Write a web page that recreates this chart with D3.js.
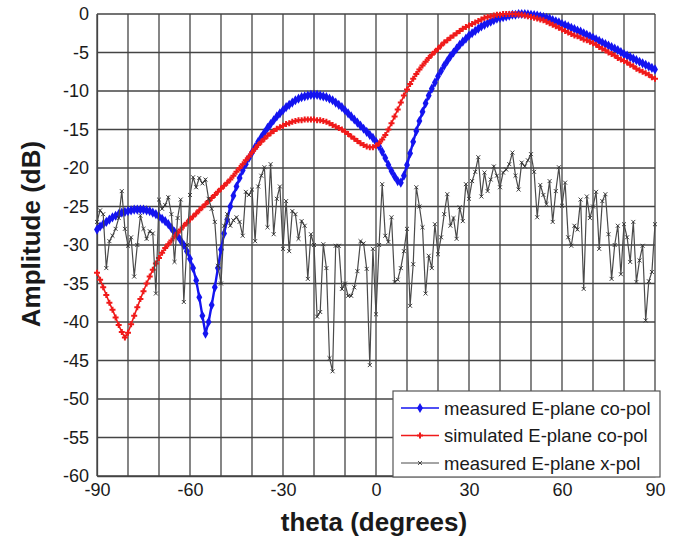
<!DOCTYPE html>
<html><head><meta charset="utf-8">
<script src="https://cdn.jsdelivr.net/npm/d3@7"></script>
<style>body{margin:0;background:#fff}svg{display:block}text{font-family:"Liberation Sans",Arial,sans-serif}</style>
</head><body>
<script>
const thetaStart = -90, thetaStep = 1;
const measuredCoPol = [-28.0,-27.6,-27.3,-27.0,-26.7,-26.4,-26.2,-26.0,-25.8,-25.7,-25.6,-25.5,-25.4,-25.4,-25.4,-25.4,-25.5,-25.6,-25.8,-26.0,-26.3,-26.6,-26.9,-27.3,-27.8,-28.3,-28.8,-29.4,-30.0,-30.8,-31.8,-33.0,-34.6,-36.8,-39.2,-41.5,-40.0,-37.8,-35.5,-33.0,-30.6,-28.5,-26.7,-25.0,-23.6,-22.4,-21.3,-20.3,-19.5,-18.7,-18.0,-17.3,-16.6,-16.0,-15.4,-14.8,-14.3,-13.8,-13.3,-12.9,-12.5,-12.1,-11.8,-11.5,-11.2,-11.0,-10.8,-10.7,-10.6,-10.5,-10.5,-10.5,-10.6,-10.7,-10.8,-11.0,-11.2,-11.5,-11.8,-12.1,-12.5,-12.9,-13.3,-13.7,-14.1,-14.5,-14.9,-15.3,-15.7,-16.1,-16.6,-17.2,-17.9,-18.7,-19.6,-20.4,-21.1,-21.7,-21.9,-21.0,-19.6,-18.1,-16.6,-15.2,-13.9,-12.7,-11.6,-10.6,-9.7,-8.9,-8.1,-7.4,-6.7,-6.1,-5.5,-5.0,-4.5,-4.0,-3.6,-3.2,-2.8,-2.5,-2.2,-1.9,-1.6,-1.4,-1.2,-1.0,-0.8,-0.6,-0.5,-0.4,-0.3,-0.2,-0.1,-0.1,0,0,0,-0.05,-0.1,-0.15,-0.2,-0.3,-0.4,-0.5,-0.6,-0.8,-0.95,-1.1,-1.3,-1.45,-1.6,-1.8,-1.95,-2.15,-2.3,-2.5,-2.7,-2.9,-3.1,-3.3,-3.5,-3.7,-3.9,-4.1,-4.3,-4.5,-4.7,-4.95,-5.2,-5.4,-5.6,-5.8,-6.0,-6.2,-6.4,-6.6,-6.8,-7.0,-7.2];
const simulatedCoPol = [-33.6,-34.5,-35.5,-36.5,-37.5,-38.4,-39.4,-40.4,-41.3,-42.0,-41.4,-40.3,-39.2,-38.1,-37.0,-36.0,-35.0,-34.1,-33.2,-32.4,-31.7,-31.0,-30.4,-29.9,-29.4,-28.9,-28.4,-28.0,-27.5,-27.1,-26.7,-26.3,-25.9,-25.5,-25.1,-24.7,-24.3,-23.9,-23.5,-23.1,-22.7,-22.3,-21.9,-21.5,-21.0,-20.5,-20.0,-19.5,-19.0,-18.5,-18.0,-17.5,-17.0,-16.6,-16.2,-15.8,-15.5,-15.2,-14.9,-14.7,-14.5,-14.3,-14.2,-14.0,-13.9,-13.8,-13.8,-13.7,-13.7,-13.7,-13.7,-13.8,-13.8,-13.9,-14.0,-14.2,-14.4,-14.6,-14.8,-15.0,-15.3,-15.6,-15.9,-16.2,-16.5,-16.8,-17.0,-17.2,-17.3,-17.3,-17.1,-16.8,-16.3,-15.7,-15.0,-14.2,-13.3,-12.4,-11.5,-10.6,-9.8,-9.1,-8.4,-7.8,-7.2,-6.7,-6.2,-5.7,-5.3,-4.9,-4.5,-4.1,-3.7,-3.4,-3.1,-2.8,-2.5,-2.2,-1.9,-1.7,-1.5,-1.3,-1.1,-0.9,-0.7,-0.5,-0.4,-0.3,-0.2,-0.1,-0.1,0,0,0,0,0,-0.05,-0.1,-0.2,-0.3,-0.4,-0.5,-0.6,-0.7,-0.8,-1.0,-1.2,-1.4,-1.6,-1.8,-2.0,-2.2,-2.4,-2.6,-2.8,-2.9,-3.1,-3.3,-3.4,-3.6,-3.8,-4.0,-4.3,-4.5,-4.7,-5.0,-5.2,-5.4,-5.7,-5.9,-6.1,-6.3,-6.6,-6.8,-7.1,-7.3,-7.5,-7.7,-7.9,-8.2,-8.4];
const measuredXPol = [-27.0,-25.5,-26.0,-33.0,-29.5,-28.8,-27.9,-26.5,-23.0,-27.9,-30.1,-29.0,-34.1,-30.0,-26.2,-27.9,-29.2,-28.2,-28.5,-36.3,-24.1,-25.3,-24.8,-23.8,-26.0,-32.2,-26.5,-24.1,-37.4,-30.0,-23.5,-21.2,-22.5,-21.3,-22.0,-21.5,-24.0,-25.3,-27.0,-32.7,-35.0,-27.5,-26.0,-27.5,-26.8,-26.4,-27.0,-28.8,-23.1,-23.5,-22.8,-29.5,-22.4,-21.0,-19.9,-27.7,-19.5,-28.6,-24.0,-22.4,-30.5,-24.3,-30.8,-25.6,-26.0,-29.2,-26.9,-27.5,-34.4,-28.6,-30.0,-39.3,-38.7,-29.9,-33.0,-44.7,-46.4,-30.1,-30.1,-35.7,-35.0,-36.6,-36.6,-35.5,-33.4,-29.5,-29.8,-33.1,-45.6,-30.5,-39.0,-30.0,-22.1,-28.8,-29.6,-26.4,-34.8,-34.5,-33.0,-30.8,-27.9,-37.9,-32.5,-22.5,-25.0,-27.7,-36.3,-31.4,-33.0,-27.3,-31.2,-29.0,-26.0,-23.4,-27.5,-26.5,-29.2,-25.1,-26.9,-22.1,-24.0,-21.7,-20.5,-18.6,-23.7,-20.6,-23.0,-21.5,-19.8,-21.0,-22.5,-20.6,-20.2,-19.5,-18.0,-21.0,-22.8,-19.3,-19.8,-19.0,-18.2,-20.5,-26.4,-22.2,-23.5,-24.7,-21.7,-27.0,-23.0,-19.9,-24.9,-21.9,-29.0,-30.1,-27.5,-28.0,-24.1,-35.7,-23.7,-26.5,-25.0,-23.1,-30.5,-24.3,-23.4,-28.6,-34.4,-30.0,-27.5,-33.8,-27.3,-29.0,-32.2,-27.0,-34.8,-32.0,-30.1,-39.8,-34.7,-33.5,-27.3];
const xTicks = [-90,-60,-30,0,30,60,90];
const yTicks = [0,-5,-10,-15,-20,-25,-30,-35,-40,-45,-50,-55,-60];
const seriesNames = ["measured E-plane co-pol","simulated E-plane co-pol","measured E-plane x-pol"];

const W = 676, H = 541;
const m = {left: 97, right: 655, top: 14, bottom: 476};
const svg = d3.select("body").append("svg").attr("width", W).attr("height", H);
const x = d3.scaleLinear().domain([-90, 90]).range([m.left, m.right]);
const y = d3.scaleLinear().domain([-60, 0]).range([m.bottom, m.top]);
const gridColor = "#444";
const font = "'Liberation Sans',Arial,sans-serif";
const fmt = d => String(d);

// grid
const g = svg.append("g");
g.selectAll("line.v").data(d3.range(-90, 91, 10)).join("line")
  .attr("x1", d => x(d)).attr("x2", d => x(d)).attr("y1", m.top).attr("y2", m.bottom)
  .attr("stroke", gridColor).attr("stroke-width", 1.3);
g.selectAll("line.h").data(yTicks).join("line")
  .attr("x1", m.left).attr("x2", m.right).attr("y1", d => y(d)).attr("y2", d => y(d))
  .attr("stroke", gridColor).attr("stroke-width", 1.3);

// axes labels
const yAxis = d3.axisLeft(y).tickValues(yTicks).tickFormat(fmt).tickSize(0).tickPadding(8);
const ya = svg.append("g").attr("transform", `translate(${m.left},0)`).call(yAxis);
ya.select(".domain").attr("stroke", gridColor).attr("stroke-width", 1.3);
ya.selectAll("text").attr("font-size", 18).attr("fill", "#1a1a1a").style("font-family", font);
const xAxis = d3.axisBottom(x).tickValues(xTicks).tickFormat(fmt).tickSize(0).tickPadding(7);
const xa = svg.append("g").attr("transform", `translate(0,${m.bottom})`).call(xAxis);
xa.select(".domain").attr("stroke", gridColor).attr("stroke-width", 1.3);
xa.selectAll("text").attr("font-size", 18).attr("fill", "#1a1a1a").style("font-family", font);

svg.append("text").attr("x", 374).attr("y", 531).attr("text-anchor", "middle")
  .attr("font-size", 26).attr("font-weight", "bold").attr("fill", "#1a1a1a").text("theta (degrees)");
svg.append("text").attr("transform", "translate(40,234) rotate(-90)").attr("text-anchor", "middle")
  .attr("font-size", 26).attr("font-weight", "bold").attr("fill", "#1a1a1a").text("Amplitude (dB)");

const toPts = arr => arr.map((v, i) => [thetaStart + i * thetaStep, v]);
const line = d3.line().x(d => x(d[0])).y(d => y(d[1]));
const diamond = d3.symbol().type(d3.symbolDiamond).size(30)();
const cross = d3.symbol().type(d3.symbolCross).size(20)();
const xmark = d3.symbol().type(d3.symbolTimes).size(12)();

const series = [
  {data: measuredCoPol, color: "#1414f0", width: 2.4, sym: diamond, fill: "#1414f0", stroke: "none"},
  {data: simulatedCoPol, color: "#f01a1a", width: 1.6, sym: cross, fill: "#f01a1a", stroke: "none"},
  {data: measuredXPol, color: "#4a4a4a", width: 1.2, sym: xmark, fill: "none", stroke: "#2a2a2a"}
];
series.forEach(s => {
  const pts = toPts(s.data);
  svg.append("path").datum(pts).attr("d", line).attr("fill", "none")
    .attr("stroke", s.color).attr("stroke-width", s.width);
  svg.append("g").selectAll("path").data(pts).join("path")
    .attr("transform", d => `translate(${x(d[0])},${y(d[1])})`).attr("d", s.sym)
    .attr("fill", s.fill).attr("stroke", s.stroke).attr("stroke-width", 0.9);
});

// legend
const lg = svg.append("g");
lg.append("rect").attr("x", 393).attr("y", 391).attr("width", 267).attr("height", 86)
  .attr("fill", "#fff").attr("stroke", "#555").attr("stroke-width", 1.2);
series.forEach((s, i) => {
  const yy = 408 + i * 27.5;
  lg.append("line").attr("x1", 401).attr("x2", 439).attr("y1", yy).attr("y2", yy)
    .attr("stroke", s.color).attr("stroke-width", i === 2 ? 1 : 1.5);
  lg.append("path").attr("transform", `translate(420,${yy})`).attr("d", s.sym)
    .attr("fill", s.fill).attr("stroke", s.stroke).attr("stroke-width", 0.8);
  lg.append("text").attr("x", 444).attr("y", yy + 6.5).attr("font-size", 18.5).attr("fill", "#1a1a1a")
    .text(seriesNames[i]);
});
</script>
</body></html>
